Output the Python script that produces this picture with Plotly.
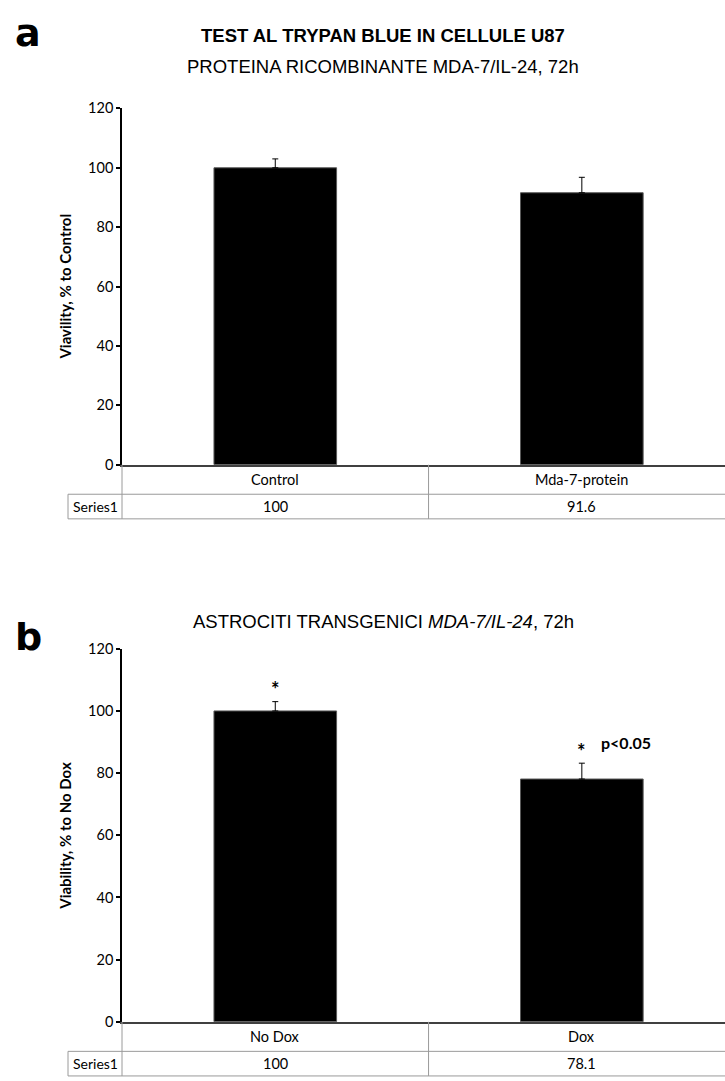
import plotly.graph_objects as go

# ---- data ----
categories_a = ["Control", "Mda-7-protein"]
viability_a = [100, 91.6]
sem_a = [3.0, 5.2]

categories_b = ["No Dox", "Dox"]
viability_b = [100, 78.1]
sem_b = [3.0, 5.1]

y_ticks = [0, 20, 40, 60, 80, 100, 120]
series_name = "Series1"

# ---- canvas helpers (pixel -> paper) ----
W, H = 725, 1081


def px(x):
    return x / W


def py(y):
    return 1 - y / H


LABEL_FONT = "Lato, Carlito, Calibri, sans-serif"
TITLE_FONT = "Liberation Sans, Arial, sans-serif"
LETTER_FONT = "DejaVu Sans, sans-serif"
GRID_GREY = "#9a9a9a"
LABEL_SIZE = 14.5

fig = go.Figure()

bar_style = dict(
    width=0.4,
    marker=dict(color="black", line=dict(color="#5a5a5a", width=1)),
    showlegend=False,
    hoverinfo="skip",
)

fig.add_trace(go.Bar(
    x=categories_a, y=viability_a, xaxis="x", yaxis="y",
    error_y=dict(type="data", array=sem_a, arrayminus=[0] * len(sem_a),
                 symmetric=False, color="black", thickness=1, width=3),
    **bar_style,
))
fig.add_trace(go.Bar(
    x=categories_b, y=viability_b, xaxis="x2", yaxis="y2",
    error_y=dict(type="data", array=sem_b, arrayminus=[0] * len(sem_b),
                 symmetric=False, color="black", thickness=1, width=3),
    **bar_style,
))

# panel geometry (pixels)
PLOT_L = 122
panels = {
    "a": dict(top=101, bottom=463, row=30, row2=25),
    "b": dict(top=650, bottom=1029, row=30, row2=25),
}

xaxis_common = dict(
    range=[-0.5, 1.467], showticklabels=False, ticks="", showgrid=False,
    zeroline=False, showline=True, linecolor="#404040", linewidth=2,
    domain=[px(PLOT_L), 1], fixedrange=True,
)
yaxis_common = dict(
    range=[0, 120], tickvals=y_ticks, ticks="outside", ticklen=4,
    tickwidth=1.5, tickcolor="black", showline=True, linecolor="black",
    linewidth=1.5, showgrid=False, zeroline=False,
    tickfont=dict(family=LABEL_FONT, size=LABEL_SIZE, color="black"),
    fixedrange=True,
)

fig.update_layout(
    width=W, height=H, margin=dict(l=0, r=0, t=0, b=0),
    paper_bgcolor="white", plot_bgcolor="white", bargap=0.6,
    xaxis=dict(anchor="y", **xaxis_common),
    yaxis=dict(anchor="x", domain=[py(panels["a"]["bottom"]), py(panels["a"]["top"])],
               **yaxis_common),
    xaxis2=dict(anchor="y2", **xaxis_common),
    yaxis2=dict(anchor="x2", domain=[py(panels["b"]["bottom"]), py(panels["b"]["top"])],
                **yaxis_common),
)

shapes = []
annotations = []
SERIES_L = 68


def add_table(xref, cats, vals, p):
    y0 = p["bottom"]
    y1 = y0 + p["row"]
    y2 = y1 + p["row2"]
    line = dict(color=GRID_GREY, width=1)
    # horizontal rules
    for yy in (y1, y2):
        shapes.append(dict(type="line", xref="paper", yref="paper",
                           x0=px(SERIES_L), x1=1, y0=py(yy), y1=py(yy), line=line))
    # vertical rules
    shapes.append(dict(type="line", xref="paper", yref="paper",
                       x0=px(SERIES_L), x1=px(SERIES_L), y0=py(y1), y1=py(y2), line=line))
    shapes.append(dict(type="line", xref="paper", yref="paper",
                       x0=px(PLOT_L), x1=px(PLOT_L), y0=py(y0), y1=py(y2), line=line))
    shapes.append(dict(type="line", xref=xref, yref="paper",
                       x0=0.5, x1=0.5, y0=py(y0), y1=py(y2), line=line))
    font = dict(family=LABEL_FONT, size=LABEL_SIZE, color="black")
    for c, v in zip(cats, vals):
        annotations.append(dict(x=c, xref=xref, y=py((y0 + y1) / 2), yref="paper",
                                text=c, showarrow=False, font=font,
                                xanchor="center", yanchor="middle"))
        annotations.append(dict(x=c, xref=xref, y=py((y1 + y2) / 2), yref="paper",
                                text=f"{v:g}", showarrow=False, font=font,
                                xanchor="center", yanchor="middle"))
    annotations.append(dict(x=px((SERIES_L + PLOT_L) / 2), xref="paper",
                            y=py((y1 + y2) / 2), yref="paper", text=series_name,
                            showarrow=False, font=dict(font, size=LABEL_SIZE - 0.5),
                            xanchor="center", yanchor="middle"))


add_table("x", categories_a, viability_a, panels["a"])
add_table("x2", categories_b, viability_b, panels["b"])

# panel letters (anchored by the top of their text box)
for letter, ytop in (("a", 0), ("b", 614)):
    annotations.append(dict(x=px(13), y=py(ytop), xref="paper", yref="paper",
                            text=f"<b>{letter}</b>", showarrow=False,
                            xanchor="left", yanchor="top",
                            font=dict(family=LETTER_FONT, size=38, color="black")))

# titles
annotations.append(dict(x=px(383), y=py(27), xref="paper", yref="paper",
                        text="<b>TEST AL TRYPAN BLUE IN CELLULE U87</b>",
                        showarrow=False, xanchor="center", yanchor="middle",
                        font=dict(family=TITLE_FONT, size=18.5, color="black")))
annotations.append(dict(x=px(383), y=py(58), xref="paper", yref="paper",
                        text="PROTEINA RICOMBINANTE MDA-7/IL-24, 72h",
                        showarrow=False, xanchor="center", yanchor="middle",
                        font=dict(family=TITLE_FONT, size=18.5, color="black")))
annotations.append(dict(x=px(383), y=py(622), xref="paper", yref="paper",
                        text="ASTROCITI TRANSGENICI <i>MDA-7/IL-24</i>, 72h",
                        showarrow=False, xanchor="center", yanchor="middle",
                        font=dict(family=TITLE_FONT, size=18.5, color="black")))

# y-axis titles
annotations.append(dict(x=px(65), y=py(282), xref="paper", yref="paper",
                        text="<b>Viavility, % to Control</b>", textangle=-90,
                        showarrow=False, xanchor="center", yanchor="middle",
                        font=dict(family=LABEL_FONT, size=15, color="black")))
annotations.append(dict(x=px(65), y=py(840), xref="paper", yref="paper",
                        text="<b>Viability, % to No Dox</b>", textangle=-90,
                        showarrow=False, xanchor="center", yanchor="middle",
                        font=dict(family=LABEL_FONT, size=15, color="black")))

# significance marks
star_font = dict(family=LABEL_FONT, size=20, color="black")
annotations.append(dict(x=categories_b[0], xref="x2", y=107, yref="y2",
                        text="<b>*</b>", showarrow=False, font=star_font,
                        xanchor="center", yanchor="middle"))
annotations.append(dict(x=categories_b[1], xref="x2", y=87, yref="y2",
                        text="<b>*</b>", showarrow=False, font=star_font,
                        xanchor="center", yanchor="middle"))
annotations.append(dict(x=categories_b[1], xref="x2", y=90, yref="y2",
                        text="<b>p<0.05</b>", showarrow=False, xshift=17,
                        xanchor="left", yanchor="middle",
                        font=dict(family=LABEL_FONT, size=16, color="black")))

fig.update_layout(shapes=shapes, annotations=annotations)

fig.write_html("out.html")
